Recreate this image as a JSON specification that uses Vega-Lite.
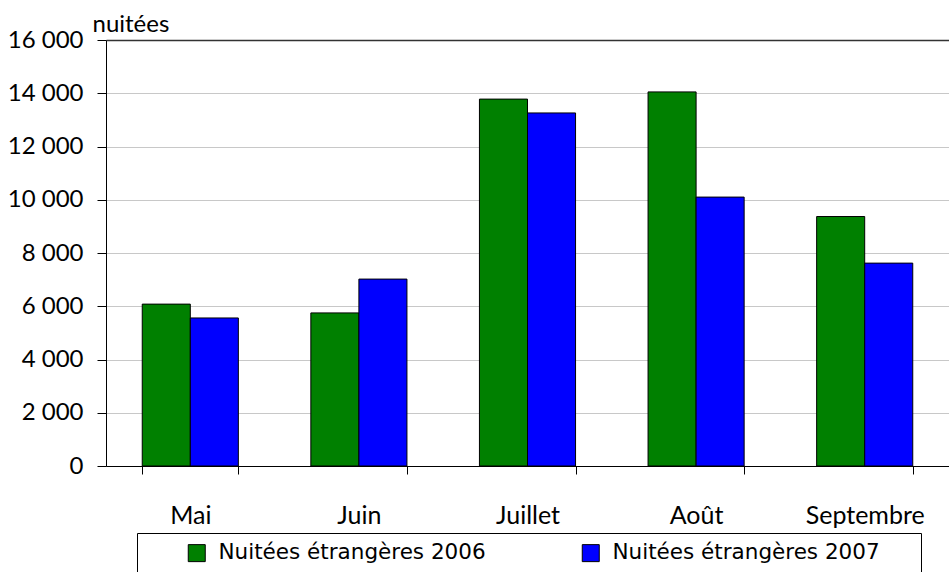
{
  "$schema": "https://vega.github.io/schema/vega-lite/v6.json",
  "width": 843,
  "height": 426,
  "autosize": {"type": "none"},
  "padding": {"left": 106, "top": 40, "right": 0, "bottom": 106},
  "background": "white",
  "config": {"view": {"stroke": null}, "font": "Lato"},
  "data": {
    "values": [
      {"mois": "Mai", "serie": "Nuitées étrangères 2006", "valeur": 6080},
      {"mois": "Mai", "serie": "Nuitées étrangères 2007", "valeur": 5560},
      {"mois": "Juin", "serie": "Nuitées étrangères 2006", "valeur": 5750},
      {"mois": "Juin", "serie": "Nuitées étrangères 2007", "valeur": 7020},
      {"mois": "Juillet", "serie": "Nuitées étrangères 2006", "valeur": 13780},
      {"mois": "Juillet", "serie": "Nuitées étrangères 2007", "valeur": 13260},
      {"mois": "Août", "serie": "Nuitées étrangères 2006", "valeur": 14050},
      {"mois": "Août", "serie": "Nuitées étrangères 2007", "valeur": 10100},
      {"mois": "Septembre", "serie": "Nuitées étrangères 2006", "valeur": 9370},
      {"mois": "Septembre", "serie": "Nuitées étrangères 2007", "valeur": 7620}
    ]
  },
  "mark": {"type": "bar", "stroke": "black", "strokeWidth": 1},
  "encoding": {
    "x": {
      "field": "mois",
      "type": "nominal",
      "sort": ["Mai", "Juin", "Juillet", "Août", "Septembre"],
      "scale": {"paddingInner": 0.43, "paddingOuter": 0.215},
      "axis": {
        "title": null,
        "labelAngle": 0,
        "tickBand": "extent",
        "domainColor": "black",
        "tickColor": "black",
        "tickSize": 8,
        "labelPadding": 29,
        "labelFontSize": 25,
        "labelColor": "black",
        "grid": false
      }
    },
    "xOffset": {
      "field": "serie",
      "type": "nominal",
      "sort": ["Nuitées étrangères 2006", "Nuitées étrangères 2007"]
    },
    "y": {
      "field": "valeur",
      "type": "quantitative",
      "scale": {"domain": [0, 16000], "nice": false},
      "axis": {
        "values": [0, 2000, 4000, 6000, 8000, 10000, 12000, 14000, 16000],
        "labelExpr": "replace(format(datum.value, ','), ',', ' ')",
        "title": "nuitées",
        "titleAngle": 0,
        "titleAlign": "left",
        "titleBaseline": "alphabetic",
        "titleX": -14,
        "titleY": -9,
        "titleFontSize": 24,
        "titleFontWeight": "normal",
        "titleColor": "black",
        "domainColor": "black",
        "tickColor": "black",
        "tickSize": 9,
        "labelPadding": 14,
        "labelFontSize": 24,
        "labelColor": "black",
        "grid": true,
        "gridColor": {"condition": {"test": "datum.value === 16000", "value": "#333333"}, "value": "#c8c8c8"},
        "gridWidth": {"condition": {"test": "datum.value === 16000", "value": 1.5}, "value": 1}
      }
    },
    "color": {
      "field": "serie",
      "type": "nominal",
      "scale": {"domain": ["Nuitées étrangères 2006", "Nuitées étrangères 2007"], "range": ["#008000", "#0000ff"]},
      "legend": {
        "orient": "none",
        "legendX": 31,
        "legendY": 493,
        "direction": "horizontal",
        "strokeColor": "black",
        "fillColor": "white",
        "padding": 9,
        "symbolType": "square",
        "symbolSize": 289,
        "symbolStrokeColor": "black",
        "symbolStrokeWidth": 1,
        "symbolOpacity": 1,
        "labelFont": "DejaVu Sans",
        "labelFontSize": 21.5,
        "labelColor": "black",
        "labelLimit": 500,
        "labelOffset": 11,
        "labelExpr": "datum.label == 'Nuitées étrangères 2007' ? datum.label + '\u2800\u2800' : datum.label",
        "columnPadding": 94,
        "title": " ",
        "titleOrient": "left",
        "titlePadding": 40
      }
    }
  }
}
